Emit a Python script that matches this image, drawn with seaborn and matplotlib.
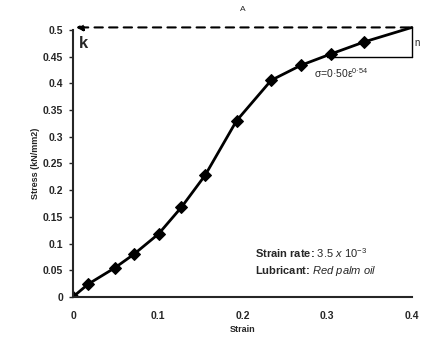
import pandas as pd
import seaborn as sns
from matplotlib import pyplot as plt

strain = [0.0, 0.018, 0.049, 0.072, 0.101, 0.128, 0.156, 0.193, 0.234, 0.269, 0.304, 0.344]
stress = [0.0, 0.024, 0.054, 0.080, 0.118, 0.168, 0.228, 0.330, 0.406, 0.434, 0.455, 0.478]
x_ticks = [0, 0.1, 0.2, 0.3, 0.4]
y_ticks = [0, 0.05, 0.1, 0.15, 0.2, 0.25, 0.3, 0.35, 0.4, 0.45, 0.5]
y_labels = ["0", "0.05", "0.1", "0.15", "0.2", "0.25", "0.3", "0.35", "0.4", "0.45", "0.5"]

df = pd.DataFrame({"Strain": strain, "Stress": stress})

sns.set_style("ticks")
plt.rcParams['font.family'] = ['Liberation Sans', 'DejaVu Sans']
plt.rcParams['mathtext.fontset'] = 'custom'
plt.rcParams['mathtext.rm'] = 'Liberation Sans'
plt.rcParams['mathtext.it'] = 'Liberation Sans:italic'
fig = plt.figure(figsize=(4.22, 3.42), dpi=100)
ax = fig.add_axes([0.173, 0.132, 0.803, 0.78])

sns.lineplot(x="Strain", y="Stress", data=df, color="black", linewidth=2,
             marker="D", markersize=6, markeredgecolor="black", ax=ax)

# extension of power-law line and slope triangle
ax.plot([0.344, 0.4], [0.478, 0.505], color="black", linewidth=2, clip_on=False)
ax.plot([0.4, 0.4], [0.505, 0.45], color="black", linewidth=1, clip_on=False)
ax.plot([0.3, 0.4], [0.45, 0.45], color="black", linewidth=1, clip_on=False)
ax.annotate("", xy=(0.0, 0.505), xytext=(0.4, 0.505),
            arrowprops=dict(arrowstyle="-|>", linestyle=(0, (4, 3)), color="black", lw=1.5),
            annotation_clip=False)

ax.text(0.007, 0.475, "k", fontsize=12, fontweight="bold", va="center")
ax.text(0.403, 0.475, "n", fontsize=7, va="center", clip_on=False)
ax.text(0.2, 0.535, "A", fontsize=6, ha="center")
ax.text(0.285, 0.41, r"σ=0·50ε$^{0·54}$", fontsize=7.5)
ax.text(0.215, 0.072, r"Strain rate: $\mathit{3.5\ x\ 10^{-3}}$", fontsize=8, fontweight="bold")
ax.text(0.215, 0.043, r"Lubricant: $\mathit{Red\ palm\ oil}$", fontsize=8, fontweight="bold")

ax.set_xlim(0, 0.4)
ax.set_ylim(0, 0.5)
ax.set_xticks(x_ticks)
ax.set_xticklabels([str(t) for t in x_ticks], fontsize=7.5, fontweight="bold")
ax.set_yticks(y_ticks)
ax.set_yticklabels(y_labels, fontsize=7.5, fontweight="bold")
ax.set_xlabel("Strain", fontsize=6.5, fontweight="bold", labelpad=3)
ax.set_ylabel("Stress (kN/mm2)", fontsize=6.5, fontweight="bold", labelpad=2)
ax.tick_params(length=3, width=1, pad=4)
ax.tick_params(axis="x", length=0, pad=10)
for s in ["left", "bottom"]:
    ax.spines[s].set_linewidth(1.5)
sns.despine(ax=ax)

fig.savefig("out.png", dpi=100)
